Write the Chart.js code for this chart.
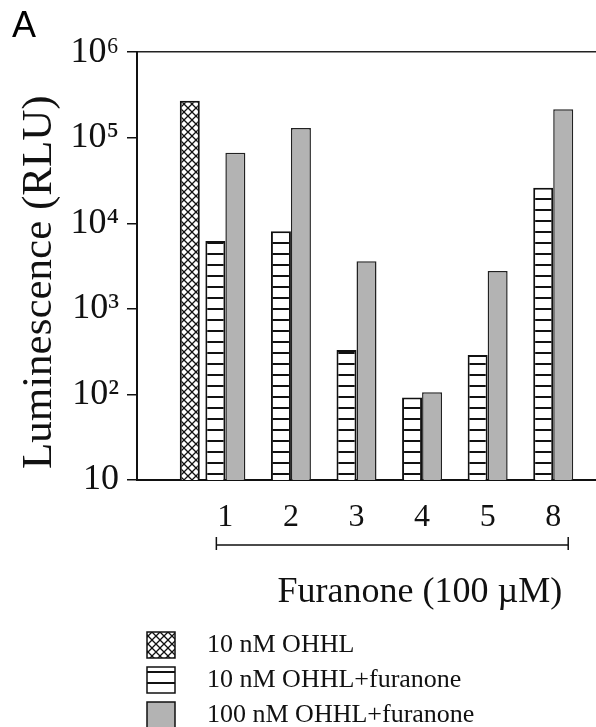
<!DOCTYPE html>
<html>
<head>
<meta charset="utf-8">
<title>Luminescence - furanones</title>
<script src="https://cdn.jsdelivr.net/npm/chart.js@4.4.1/dist/chart.umd.min.js"></script>
<style>
  html, body { margin: 0; padding: 0; background: #fff; }
  #wrap { width: 596px; height: 727px; }
</style>
</head>
<body>
<div id="wrap"><canvas id="myChart" width="596" height="727"></canvas></div>
<script>
// values (RLU, log axis)
var furanones = ['1', '2', '3', '4', '5', '8'];
var ohhl10 = 270000;                                              // 10 nM OHHL alone
var ohhl10Furanone = [6200, 8100, 330, 92, 290, 26000];           // 10 nM OHHL + furanone
var ohhl100Furanone = [67000, 130000, 3600, 106, 2770, 216000];   // 100 nM OHHL + furanone

var yTickValues = [10, 100, 1000, 10000, 100000, 1000000];
var yTickLabels = ['10', '10²', '10³', '10⁴', '10⁵', '10⁶'];
var legendLabels = ['10 nM OHHL', '10 nM OHHL+furanone', '100 nM OHHL+furanone'];
var xTitle = 'Furanone (100 µM)';
var yTitle = 'Luminescence (RLU)';

// first slot is the OHHL-only control, no label under it
var categories = [''].concat(furanones);

var ctx = document.getElementById('myChart').getContext('2d');
var gray = '#b3b3b3';

function crossPattern(g) {
  var c = document.createElement('canvas');
  c.width = 8; c.height = 8;
  var t = c.getContext('2d');
  t.fillStyle = '#fff';
  t.fillRect(0, 0, 8, 8);
  t.strokeStyle = '#111';
  t.lineWidth = 1.3;
  t.beginPath();
  t.moveTo(0, 0); t.lineTo(8, 8);
  t.moveTo(8, 0); t.lineTo(0, 8);
  t.stroke();
  return g.createPattern(c, 'repeat');
}

function linePattern(g) {
  var c = document.createElement('canvas');
  c.width = 8; c.height = 11;
  var t = c.getContext('2d');
  t.fillStyle = '#fff';
  t.fillRect(0, 0, 8, 11);
  t.fillStyle = '#111';
  t.fillRect(0, 0, 8, 2);
  return g.createPattern(c, 'repeat');
}

var cross = crossPattern(ctx);
var hatch = linePattern(ctx);

// bracket under the furanone numbers, axis caption and the legend
var decor = {
  id: 'decor',
  afterDraw: function (chart) {
    var c = chart.ctx, area = chart.chartArea;
    var first = chart.getDatasetMeta(0).data[1];
    var last = chart.getDatasetMeta(1).data[furanones.length];
    var x0 = first.x + 1, x1 = last.x + last.width / 2 - 5;
    var yb = area.bottom + 65;
    c.save();
    c.strokeStyle = '#111';
    c.lineWidth = 1.5;
    c.beginPath();
    c.moveTo(x0, yb); c.lineTo(x1, yb);
    c.moveTo(x0, yb - 8); c.lineTo(x0, yb + 5);
    c.moveTo(x1, yb - 8); c.lineTo(x1, yb + 5);
    c.stroke();

    c.fillStyle = '#111';
    c.font = '36px "Liberation Serif"';
    c.textAlign = 'right';
    c.textBaseline = 'middle';
    c.fillText(xTitle, x1 - 6, area.bottom + 113);

    var fills = [cross, hatch, gray];
    c.font = '26px "Liberation Serif"';
    c.textAlign = 'left';
    for (var i = 0; i < legendLabels.length; i++) {
      var ry = area.bottom + 165 + i * 35;
      c.fillStyle = fills[i];
      c.fillRect(area.left + 10, ry - 13, 28, 26);
      c.strokeRect(area.left + 10, ry - 13, 28, 26);
      c.fillStyle = '#111';
      c.fillText(legendLabels[i], area.left + 70, ry);
    }
    c.restore();
  }
};

Chart.defaults.font.family = '"Liberation Serif", "Times New Roman", serif';
Chart.defaults.color = '#111';

var chart = new Chart(ctx, {
  type: 'bar',
  data: {
    labels: categories,
    datasets: [{
      label: legendLabels[1],
      data: [null].concat(ohhl10Furanone),
      backgroundColor: hatch,
      borderColor: '#111',
      borderWidth: 2
    }, {
      label: legendLabels[2],
      data: [null].concat(ohhl100Furanone),
      backgroundColor: gray,
      borderColor: '#222',
      borderWidth: 1.5
    }, {
      label: legendLabels[0],
      data: [ohhl10].concat(furanones.map(function () { return null; })),
      backgroundColor: cross,
      borderColor: '#111',
      borderWidth: 2
    }]
  },
  options: {
    responsive: false,
    animation: false,
    devicePixelRatio: 1,
    layout: { padding: { left: 12, right: 0, top: 0, bottom: 0 } },
    datasets: { bar: { categoryPercentage: 0.915, barPercentage: 1 } },
    plugins: {
      legend: { display: false },
      tooltip: { enabled: false },
      title: {
        display: true,
        text: 'A',
        align: 'start',
        color: '#000',
        font: { family: '"Liberation Sans", Arial, sans-serif', size: 36, weight: 'normal' },
        padding: { top: 5, bottom: 4 }
      }
    },
    scales: {
      x: {
        type: 'category',
        grid: { display: false, drawTicks: false },
        border: { display: true, color: '#111', width: 2 },
        ticks: { font: { size: 32 }, padding: 18, labelOffset: -10, autoSkip: false, maxRotation: 0 },
        afterFit: function (s) { s.height = 247; }
      },
      xTop: {
        type: 'category',
        position: 'top',
        grid: { display: false, drawTicks: false },
        border: { display: true, color: '#222', width: 1.5 },
        ticks: { display: false }
      },
      y: {
        type: 'logarithmic',
        min: 10,
        max: 1000000,
        grid: { drawOnChartArea: false, drawTicks: true, tickLength: 10, color: '#111', lineWidth: 1.5 },
        border: { color: '#111', width: 2 },
        ticks: {
          font: { size: 36 },
          padding: 8,
          callback: function (v) { return yTickLabels[yTickValues.indexOf(v)]; }
        },
        afterBuildTicks: function (s) {
          s.ticks = yTickValues.map(function (v) { return { value: v }; });
        },
        // trailing spaces nudge the centred caption down like the original
        title: { display: true, text: yTitle + '   ', font: { size: 43 }, padding: { top: 2, bottom: 0 } },
        afterFit: function (s) { s.width = 125; }
      }
    }
  },
  plugins: [decor]
});
</script>
</body>
</html>
